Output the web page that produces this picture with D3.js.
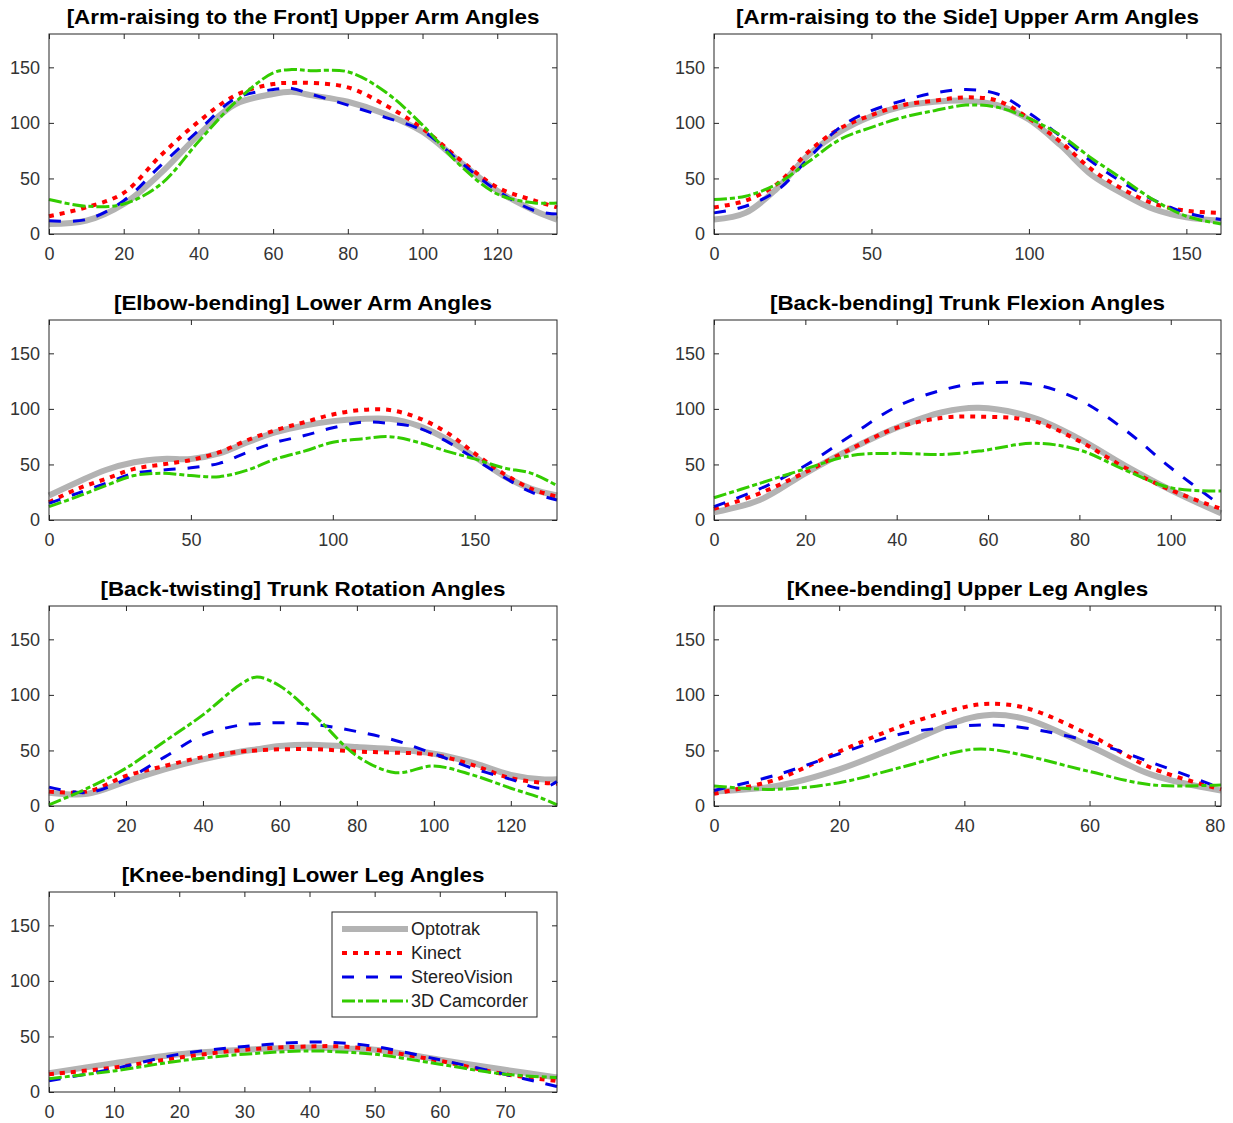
<!DOCTYPE html>
<html>
<head>
<meta charset="utf-8">
<script src="https://cdn.jsdelivr.net/npm/d3@7"></script>
<style>
  body { margin: 0; background: #fff; }
  svg { display: block; font-family: "Liberation Sans", Arial, Helvetica, sans-serif; }
  .panel-title { font-weight: bold; font-size: 19.5px; fill: #000; }
</style>
</head>
<body>
<svg id="chart" width="1233" height="1123"></svg>
<script>
// ---- data ----
const seriesNames = ['Optotrak', 'Kinect', 'StereoVision', '3D Camcorder'];

// [Arm-raising to the Front] Upper Arm Angles
const frontX     = [0, 10, 20, 30, 40, 50, 60, 65, 70, 80, 90, 100, 110, 120, 130, 136];
const frontOpto  = [9, 12, 27, 55, 89, 117, 126, 128, 125, 119, 108, 92, 65, 39, 21, 13];
const frontKin   = [16, 24, 37, 71, 101, 125, 135, 136, 136, 132, 116, 95, 67, 42, 30, 24];
const frontStereo= [12, 13, 30, 62, 93, 122, 130, 131, 126, 116, 105, 93, 65, 39, 21, 18];
const frontCam   = [31, 25, 27, 45, 83, 119, 145, 148, 147, 146, 128, 98, 62, 36, 28, 28];

// [Arm-raising to the Side] Upper Arm Angles
const sideX      = [0, 10, 20, 30, 40, 50, 60, 70, 80, 90, 100, 110, 120, 130, 140, 150, 161];
const sideOpto   = [13, 19, 41, 71, 92, 106, 115, 119, 120, 116, 103, 80, 53, 36, 22, 15, 12];
const sideKin    = [24, 30, 45, 74, 95, 107, 116, 120, 123, 120, 104, 83, 58, 40, 27, 21, 19];
const sideStereo = [19, 25, 39, 68, 96, 111, 120, 127, 130, 126, 109, 88, 65, 46, 30, 19, 13];
const sideCam    = [31, 34, 45, 65, 85, 96, 105, 111, 116, 114, 104, 89, 68, 49, 30, 16, 9];

// [Elbow-bending] Lower Arm Angles
const elbowX      = [0, 10, 20, 30, 40, 50, 60, 70, 80, 90, 100, 110, 120, 130, 140, 150, 160, 170, 179];
const elbowOpto   = [22, 34, 45, 52, 55, 55, 60, 70, 79, 85, 89, 91, 91, 85, 73, 57, 40, 28, 22];
const elbowKin    = [16, 28, 37, 46, 50, 54, 61, 72, 81, 88, 95, 99, 99, 92, 79, 60, 42, 28, 21];
const elbowStereo = [15, 24, 33, 42, 45, 47, 51, 61, 70, 76, 83, 88, 87, 83, 71, 55, 39, 25, 18];
const elbowCam    = [12, 21, 31, 40, 42, 40, 39, 45, 55, 62, 70, 73, 75, 70, 62, 55, 47, 42, 31];

// [Back-bending] Trunk Flexion Angles
const flexX      = [0, 10, 20, 30, 40, 50, 58, 70, 80, 90, 100, 111];
const flexOpto   = [7, 18, 42, 64, 83, 97, 101, 92, 73, 49, 27, 6];
const flexKin    = [10, 24, 43, 64, 83, 92, 93, 89, 71, 47, 27, 10];
const flexStereo = [12, 28, 49, 76, 102, 117, 123, 122, 108, 81, 47, 13];
const flexCam    = [20, 33, 46, 58, 60, 59, 62, 69, 63, 45, 29, 26];

// [Back-twisting] Trunk Rotation Angles
const twistX      = [0, 10, 20, 30, 40, 50, 54, 60, 70, 80, 90, 100, 110, 120, 128, 132];
const twistOpto   = [12, 11, 22, 33, 42, 49, 51, 54, 55, 53, 51, 47, 39, 28, 24, 24];
const twistKin    = [13, 13, 27, 36, 44, 49, 50, 51, 51, 49, 48, 46, 37, 25, 21, 20];
const twistStereo = [17, 12, 24, 44, 64, 73, 74, 75, 73, 67, 59, 47, 34, 24, 16, 22];
const twistCam    = [1, 16, 34, 58, 82, 110, 116, 108, 78, 45, 30, 36, 28, 16, 7, 1];

// [Knee-bending] Upper Leg Angles
const upLegX      = [0, 10, 20, 30, 40, 44, 50, 60, 70, 81];
const upLegOpto   = [13, 18, 33, 55, 78, 82, 78, 54, 28, 14];
const upLegKin    = [11, 24, 49, 72, 89, 92, 88, 64, 34, 15];
const upLegStereo = [14, 28, 47, 65, 72, 73, 70, 58, 39, 16];
const upLegCam    = [18, 15, 21, 35, 50, 51, 45, 31, 19, 19];

// [Knee-bending] Lower Leg Angles
const lowLegX      = [0, 10, 20, 30, 40, 45, 50, 60, 70, 78];
const lowLegOpto   = [17, 26, 34, 38, 40, 39, 38, 29, 20, 13];
const lowLegKin    = [16, 22, 31, 38, 41, 41, 38, 28, 16, 10];
const lowLegStereo = [10, 21, 34, 41, 45, 44, 41, 29, 16, 5];
const lowLegCam    = [12, 19, 28, 34, 37, 36, 34, 25, 16, 13];

const yTicks = [0, 50, 100, 150];

// panel table built from the arrays above
const panels = [
  { title: '[Arm-raising to the Front] Upper Arm Angles', xMax: 136, xTicks: [0, 20, 40, 60, 80, 100, 120],
    x: frontX, ys: [frontOpto, frontKin, frontStereo, frontCam] },
  { title: '[Arm-raising to the Side] Upper Arm Angles', xMax: 161, xTicks: [0, 50, 100, 150],
    x: sideX, ys: [sideOpto, sideKin, sideStereo, sideCam] },
  { title: '[Elbow-bending] Lower Arm Angles', xMax: 179, xTicks: [0, 50, 100, 150],
    x: elbowX, ys: [elbowOpto, elbowKin, elbowStereo, elbowCam] },
  { title: '[Back-bending] Trunk Flexion Angles', xMax: 111, xTicks: [0, 20, 40, 60, 80, 100],
    x: flexX, ys: [flexOpto, flexKin, flexStereo, flexCam] },
  { title: '[Back-twisting] Trunk Rotation Angles', xMax: 132, xTicks: [0, 20, 40, 60, 80, 100, 120],
    x: twistX, ys: [twistOpto, twistKin, twistStereo, twistCam] },
  { title: '[Knee-bending] Upper Leg Angles', xMax: 81, xTicks: [0, 20, 40, 60, 80],
    x: upLegX, ys: [upLegOpto, upLegKin, upLegStereo, upLegCam] },
  { title: '[Knee-bending] Lower Leg Angles', xMax: 78, xTicks: [0, 10, 20, 30, 40, 50, 60, 70],
    x: lowLegX, ys: [lowLegOpto, lowLegKin, lowLegStereo, lowLegCam], legend: true }
];

// line styles, in the same order as seriesNames
const styles = [
  { color: '#b3b3b3', width: 6, dash: null },
  { color: '#ff0000', width: 4, dash: '5,6' },
  { color: '#0000e6', width: 3, dash: '12,12' },
  { color: '#33cc00', width: 3, dash: '13,3,5,3' }
];

// ---- layout ----
const cols = [{ x0: 49, x1: 557 }, { x0: 714, x1: 1221 }];
const rowTop = 34, rowStep = 286, boxH = 200;
const tickFont = 18;

const svg = d3.select('#chart');

panels.forEach((p, i) => {
  const col = cols[i % 2];
  const top = rowTop + Math.floor(i / 2) * rowStep;
  const w = col.x1 - col.x0;

  const xScale = d3.scaleLinear().domain([0, p.xMax]).range([0, w]);
  const yScale = d3.scaleLinear().domain([0, 180]).range([boxH, 0]);

  const g = svg.append('g').attr('transform', `translate(${col.x0},${top})`);

  // title (MATLAB's bold title font runs wider than Liberation Sans)
  g.append('text')
    .attr('class', 'panel-title')
    .attr('transform', `translate(${w / 2},-10) scale(1.15,1)`)
    .attr('text-anchor', 'middle')
    .text(p.title);

  // axes (ticks pointing inward, box on)
  const axStyle = sel => {
    sel.select('.domain').remove();
    sel.selectAll('.tick line').attr('stroke', '#262626');
  };
  g.append('g')
    .call(d3.axisLeft(yScale).tickValues(yTicks).tickSize(-5).tickPadding(9))
    .call(axStyle);
  g.append('g').attr('transform', `translate(${w},0)`)
    .call(d3.axisRight(yScale).tickValues(yTicks).tickSize(-5).tickFormat(''))
    .call(axStyle);
  g.append('g').attr('transform', `translate(0,${boxH})`)
    .call(d3.axisBottom(xScale).tickValues(p.xTicks).tickSize(-5).tickPadding(13))
    .call(axStyle);
  g.append('g')
    .call(d3.axisTop(xScale).tickValues(p.xTicks).tickSize(-5).tickFormat(''))
    .call(axStyle);

  g.selectAll('.tick text').attr('font-size', tickFont).attr('fill', '#333')
    .attr('font-family', '"Liberation Sans", Arial, sans-serif');

  // series
  const line = d3.line()
    .x(d => xScale(d[0]))
    .y(d => yScale(d[1]))
    .curve(d3.curveCatmullRom.alpha(0.5));

  p.ys.forEach((vals, k) => {
    const st = styles[k];
    g.append('path')
      .datum(p.x.map((xv, j) => [xv, vals[j]]))
      .attr('fill', 'none')
      .attr('stroke', st.color)
      .attr('stroke-width', st.width)
      .attr('stroke-dasharray', st.dash)
      .attr('d', line);
  });

  // box
  g.append('rect')
    .attr('width', w).attr('height', boxH)
    .attr('fill', 'none')
    .attr('stroke', '#262626')
    .attr('stroke-width', 1);

  // legend
  if (p.legend) {
    const lg = g.append('g').attr('transform', `translate(${332 - col.x0},${912 - top})`);
    lg.append('rect')
      .attr('width', 205).attr('height', 105)
      .attr('fill', '#fff').attr('stroke', '#262626').attr('stroke-width', 1);
    seriesNames.forEach((name, k) => {
      const st = styles[k];
      const yy = 17 + k * 24;
      lg.append('line')
        .attr('x1', 10).attr('x2', 76).attr('y1', yy).attr('y2', yy)
        .attr('stroke', st.color).attr('stroke-width', st.width)
        .attr('stroke-dasharray', st.dash);
      lg.append('text')
        .attr('x', 79).attr('y', yy).attr('dy', '0.36em')
        .attr('font-size', tickFont).attr('fill', '#222')
        .text(name);
    });
  }
});
</script>
</body>
</html>
